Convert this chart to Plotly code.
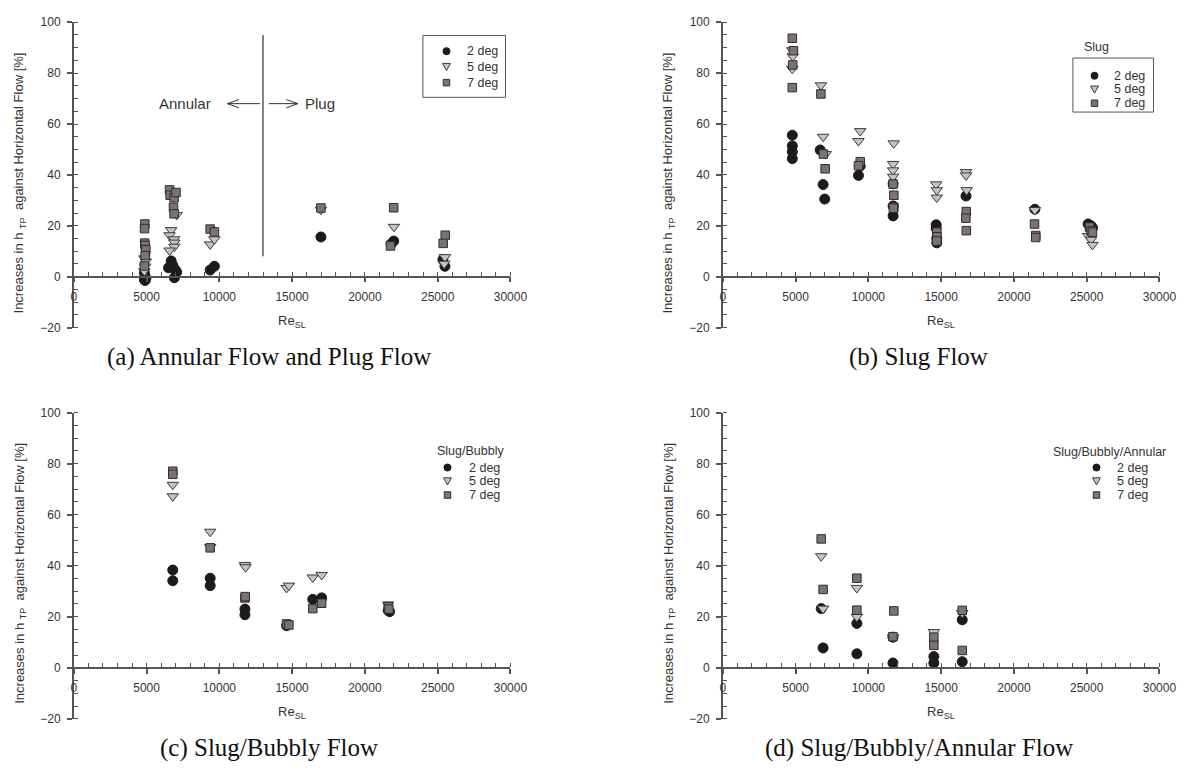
import plotly.graph_objects as go

W, H = 1202, 774

# ---------------- data: Re_SL and increase in h_TP [%] ----------------
# (a) Annular flow and plug flow
A_RE_2 = [4850, 4900, 4950, 4850, 4900, 6690, 6510, 6960, 7070, 6910, 6800, 9370, 9660, 16980, 21980, 21800, 25360, 25500]
A_H_2 = [1.5, 0.0, -0.8, -1.2, -1.5, 6.2, 3.5, 2.8, 1.8, -0.4, 4.5, 2.6, 4.1, 15.6, 14.0, 12.8, 6.7, 4.1]
A_RE_5 = [4850, 4950, 4900, 4850, 6690, 6580, 6890, 6910, 6910, 6580, 7070, 9370, 9660, 16980, 22000, 25500, 25450]
A_H_5 = [7.2, 6.0, 4.0, 2.2, 18.3, 16.3, 14.7, 13.4, 11.8, 10.3, 24.3, 12.7, 14.7, 26.3, 19.6, 7.7, 5.1]
A_RE_7 = [4880, 4860, 4870, 4900, 4950, 4900, 4850, 6580, 6620, 6890, 7020, 6850, 6890, 9370, 9660, 16980, 21980, 21760, 25520, 25380]
A_H_7 = [20.7, 18.9, 13.2, 12.3, 10.6, 8.3, 4.2, 34.1, 32.0, 31.1, 33.1, 27.3, 24.7, 18.7, 17.6, 27.0, 27.1, 12.1, 16.3, 13.1]

# (b) Slug flow
B_RE_2 = [4775, 4775, 4775, 4775, 6690, 6890, 7000, 9440, 9320, 11700, 11700, 11700, 14660, 14660, 14700, 14700, 16710, 21440, 25100, 25300, 25400]
B_H_2 = [55.6, 51.4, 49.1, 46.4, 49.8, 36.2, 30.5, 43.5, 39.8, 36.5, 27.8, 23.9, 20.4, 19.0, 15.0, 13.3, 31.7, 26.5, 20.7, 20.0, 19.2]
B_RE_5 = [4775, 4800, 4775, 6740, 6890, 7070, 9440, 9320, 11740, 11700, 11700, 11700, 14660, 14700, 14700, 16710, 16710, 16750, 21440, 25100, 25300, 25400]
B_H_5 = [89.0, 86.6, 81.7, 75.2, 55.0, 48.2, 57.2, 53.3, 52.4, 44.3, 41.8, 39.3, 36.3, 34.0, 31.1, 41.1, 39.8, 34.0, 26.2, 16.0, 14.5, 12.5]
B_RE_7 = [4775, 4850, 4800, 4775, 6740, 6910, 7030, 9440, 9320, 11700, 11750, 11750, 11720, 14700, 14720, 14700, 16730, 16700, 16730, 21420, 21500, 21500, 25200, 25300, 25400]
B_H_7 = [93.7, 88.8, 83.2, 74.3, 71.8, 48.2, 42.4, 45.2, 43.6, 36.4, 32.0, 27.3, 26.9, 17.5, 15.7, 14.0, 25.6, 23.0, 18.1, 20.7, 16.2, 15.4, 19.5, 18.0, 17.5]

# (c) Slug/bubbly flow
C_RE_2 = [6800, 6800, 9370, 9370, 11760, 11760, 14620, 16420, 17030, 21600, 21700]
C_H_2 = [38.3, 34.1, 35.1, 32.2, 23.0, 20.8, 16.5, 26.8, 27.4, 22.5, 22.0]
C_RE_5 = [6800, 6800, 9370, 9370, 11760, 11800, 14620, 14780, 16420, 17030, 21600]
C_H_5 = [71.7, 67.2, 53.3, 47.3, 40.3, 39.4, 31.3, 32.2, 35.4, 36.4, 24.8]
C_RE_7 = [6800, 6800, 9370, 11760, 11780, 14620, 14780, 16420, 17030, 21600, 21650]
C_H_7 = [77.0, 75.8, 47.0, 27.4, 27.9, 17.2, 16.8, 23.2, 25.3, 24.0, 23.0]

# (d) Slug/bubbly/annular flow
D_RE_2 = [6760, 6890, 9210, 9210, 11690, 11690, 14500, 14500, 16450, 16450]
D_H_2 = [23.2, 7.8, 17.4, 5.5, 12.0, 1.9, 4.4, 1.9, 18.8, 2.4]
D_RE_5 = [6760, 6890, 9210, 9210, 11700, 14500, 16450]
D_H_5 = [43.7, 23.2, 31.3, 20.0, 12.0, 14.0, 21.5]
D_RE_7 = [6760, 6890, 9210, 9210, 11750, 11690, 14500, 14500, 16450, 16450]
D_H_7 = [50.5, 30.7, 35.1, 22.6, 22.3, 12.2, 12.0, 8.8, 22.5, 6.8]

SERIES_NAMES = ["2 deg", "5 deg", "7 deg"]
X_RANGE = [0, 30000]
Y_RANGE = [-20, 100]
REGIME_BOUNDARY_RE = 13000

# ---------------- styling ----------------
SANS = "Liberation Sans, Arial, sans-serif"
SERIF = "Liberation Serif, Times New Roman, serif"
AXIS_GRAY = "#555555"
TEXT_GRAY = "#333333"

MARKERS = [
    dict(symbol="circle", size=10, color="#1b1b1b", line=dict(color="#1b1b1b", width=1)),
    dict(symbol="triangle-down", size=10, color="#c4c4c4", line=dict(color="#3a3a3a", width=1)),
    dict(symbol="square", size=8.5, color="#7d7171", line=dict(color="#2e2e2e", width=1)),
]


def px_x(p):
    return p / W


def px_y(p):
    return 1 - p / H


panels = [
    dict(series=[(A_RE_2, A_H_2), (A_RE_5, A_H_5), (A_RE_7, A_H_7)],
         left=72, right=516, top=15.5, bottom=326.5,
         caption="(a) Annular Flow and Plug Flow", cap_x=270),
    dict(series=[(B_RE_2, B_H_2), (B_RE_5, B_H_5), (B_RE_7, B_H_7)],
         left=732, right=1176, top=15.5, bottom=326.5,
         caption="(b) Slug Flow", cap_x=931),
    dict(series=[(C_RE_2, C_H_2), (C_RE_5, C_H_5), (C_RE_7, C_H_7)],
         left=72, right=516, top=413, bottom=725,
         caption="(c) Slug/Bubbly Flow", cap_x=270),
    dict(series=[(D_RE_2, D_H_2), (D_RE_5, D_H_5), (D_RE_7, D_H_7)],
         left=732, right=1176, top=413, bottom=725,
         caption="(d) Slug/Bubbly/Annular Flow", cap_x=931),
]

fig = go.Figure()
layout = dict(width=W, height=H, margin=dict(l=0, r=0, t=0, b=0),
              paper_bgcolor="white", plot_bgcolor="white", showlegend=False)
annotations = []
shapes = []

for i, p in enumerate(panels, start=1):
    sfx = "" if i == 1 else str(i)
    xname, yname = "x" + sfx, "y" + sfx
    zero_px = p["bottom"] - (p["bottom"] - p["top"]) * (0 - Y_RANGE[0]) / (Y_RANGE[1] - Y_RANGE[0])

    for (re, h), mk, name in zip(p["series"], MARKERS, SERIES_NAMES):
        fig.add_trace(go.Scatter(x=re, y=h, mode="markers", name=name, marker=mk,
                                 xaxis=xname, yaxis=yname, showlegend=False))

    layout["xaxis" + sfx] = dict(
        domain=[px_x(p["left"]), px_x(p["right"])], range=X_RANGE,
        anchor="free", position=px_y(zero_px),
        showline=True, linecolor=AXIS_GRAY, linewidth=1.5,
        ticks="outside", ticklen=5, tickwidth=1.5, tickcolor=AXIS_GRAY,
        tick0=0, dtick=5000, tickformat="d", ticklabelstandoff=4,
        minor=dict(dtick=1000, ticks="inside", ticklen=4, tickwidth=1, tickcolor=AXIS_GRAY, showgrid=False),
        showgrid=False, zeroline=False,
        tickfont=dict(family=SANS, size=12, color=TEXT_GRAY),
    )
    layout["yaxis" + sfx] = dict(
        domain=[px_y(p["bottom"]), px_y(p["top"])], range=Y_RANGE, anchor=xname,
        showline=True, linecolor=AXIS_GRAY, linewidth=1.5,
        ticks="outside", ticklen=5, tickwidth=1.5, tickcolor=AXIS_GRAY,
        tick0=0, dtick=20, ticklabelstandoff=4,
        minor=dict(dtick=5, ticks="inside", ticklen=4, tickwidth=1, tickcolor=AXIS_GRAY, showgrid=False),
        showgrid=False, zeroline=False,
        tickfont=dict(family=SANS, size=12, color=TEXT_GRAY),
    )

    # axis titles
    annotations.append(dict(
        text="Increases in h <sub>TP</sub>  against Horizontal Flow [%]",
        xref="paper", yref="paper", x=px_x(p["left"] - 55), y=px_y(p["top"] + 163.5),
        textangle=-90, showarrow=False, xanchor="center", yanchor="middle",
        font=dict(family=SANS, size=13, color=TEXT_GRAY)))
    annotations.append(dict(
        text="Re<sub>SL</sub>", xref="paper", yref="paper",
        x=px_x((p["left"] + p["right"]) / 2), y=px_y(p["bottom"] - 6),
        showarrow=False, xanchor="center", yanchor="middle",
        font=dict(family=SANS, size=13, color=TEXT_GRAY)))
    # sub-figure caption
    annotations.append(dict(
        text=p["caption"], xref="paper", yref="paper",
        x=px_x(p["cap_x"]), y=px_y(p["bottom"] + 30),
        showarrow=False, xanchor="center", yanchor="middle",
        font=dict(family=SERIF, size=25, color="#111111")))


# ---------------- legends drawn as keys + labels ----------------
def legend_keys(key_x, text_x, rows_y):
    for k, (ry, name) in enumerate(zip(rows_y, SERIES_NAMES)):
        if k == 0:
            r = 3.6
            shapes.append(dict(type="circle", xref="paper", yref="paper",
                               x0=px_x(key_x - r), x1=px_x(key_x + r),
                               y0=px_y(ry + r), y1=px_y(ry - r),
                               fillcolor="#1b1b1b", line=dict(color="#1b1b1b", width=1)))
        elif k == 1:
            path = "M{},{} L{},{} L{},{} Z".format(
                px_x(key_x - 4), px_y(ry - 3.5), px_x(key_x + 4), px_y(ry - 3.5),
                px_x(key_x), px_y(ry + 3.8))
            shapes.append(dict(type="path", xref="paper", yref="paper", path=path,
                               fillcolor="#c4c4c4", line=dict(color="#3a3a3a", width=1)))
        else:
            s = 3.3
            shapes.append(dict(type="rect", xref="paper", yref="paper",
                               x0=px_x(key_x - s), x1=px_x(key_x + s),
                               y0=px_y(ry + s), y1=px_y(ry - s),
                               fillcolor="#7d7171", line=dict(color="#2e2e2e", width=1)))
        annotations.append(dict(text=name, xref="paper", yref="paper",
                                x=px_x(text_x), y=px_y(ry), xanchor="left", yanchor="middle",
                                showarrow=False, font=dict(family=SANS, size=12.5, color=TEXT_GRAY)))


def legend_title(text, cx, cy):
    annotations.append(dict(text=text, xref="paper", yref="paper", x=px_x(cx), y=px_y(cy),
                            xanchor="center", yanchor="middle", showarrow=False,
                            font=dict(family=SANS, size=12.5, color=TEXT_GRAY)))


def legend_box(x0, y0, x1, y1):
    shapes.append(dict(type="rect", xref="paper", yref="paper",
                       x0=px_x(x0), x1=px_x(x1), y0=px_y(y1), y1=px_y(y0),
                       line=dict(color=AXIS_GRAY, width=1), fillcolor="rgba(0,0,0,0)"))


# (a)
legend_box(427, 29, 511, 92)
legend_keys(451, 470, [45, 61, 77])
# (b)
legend_title("Slug", 1112, 41)
legend_box(1088, 52, 1170, 107)
legend_keys(1110, 1128, [70, 84, 98])
# (c)
legend_title("Slug/Bubbly", 475, 452)
legend_keys(452, 472, [469, 483, 497])
# (d)
legend_title("Slug/Bubbly/Annular", 1125, 453)
legend_keys(1112, 1131, [469, 483, 497])

# ---------------- regime boundary in (a) ----------------
shapes.append(dict(type="line", xref="x", yref="y", x0=REGIME_BOUNDARY_RE, x1=REGIME_BOUNDARY_RE,
                   y0=8, y1=95, line=dict(color="#333333", width=1.2)))
ARROW_Y = 68
shapes.append(dict(type="path", xref="x", yref="y",
                   path="M12800,{y} L10550,{y} M11350,{u} L10550,{y} L11350,{d}".format(
                       y=ARROW_Y, u=ARROW_Y + 1.6, d=ARROW_Y - 1.6),
                   line=dict(color="#333333", width=1)))
shapes.append(dict(type="path", xref="x", yref="y",
                   path="M13400,{y} L15400,{y} M14600,{u} L15400,{y} L14600,{d}".format(
                       y=ARROW_Y, u=ARROW_Y + 1.6, d=ARROW_Y - 1.6),
                   line=dict(color="#333333", width=1)))
annotations.append(dict(text="Annular", xref="x", yref="y", x=7650, y=ARROW_Y, showarrow=False,
                        xanchor="center", yanchor="middle", font=dict(family=SANS, size=15, color=TEXT_GRAY)))
annotations.append(dict(text="Plug", xref="x", yref="y", x=16950, y=ARROW_Y, showarrow=False,
                        xanchor="center", yanchor="middle", font=dict(family=SANS, size=15, color=TEXT_GRAY)))

layout["annotations"] = annotations
layout["shapes"] = shapes
fig.update_layout(**layout)

fig.write_html("out.html")
